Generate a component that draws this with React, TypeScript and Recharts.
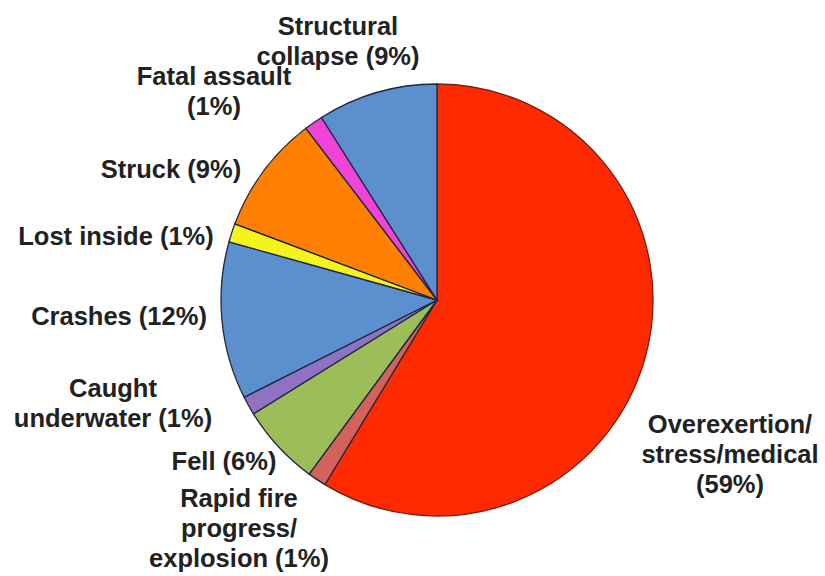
import React from 'react'
import { PieChart, Pie, Cell } from 'recharts'

// clockwise from 12 o'clock
const causes = [
  'Overexertion/\nstress/medical\n',
  'Rapid fire\nprogress/\nexplosion',
  'Fell',
  'Caught\nunderwater',
  'Crashes',
  'Lost inside',
  'Struck',
  'Fatal assault\n',
  'Structural\ncollapse',
]
const shares = [58.8, 1.4, 6.1, 1.4, 11.8, 1.4, 8.9, 1.4, 9.0]
const colors = [
  '#ff2a00', '#d3625a', '#9dbd5a', '#8f72c2', '#5b8fcd',
  '#f4f31c', '#ff8000', '#ef44d6', '#5b8fcd',
]

// where each label block is centred (x) and where its first baseline sits (y)
const labelSpots = [
  { x: 730, y: 433 },
  { x: 239, y: 507 },
  { x: 224, y: 470 },
  { x: 113, y: 397 },
  { x: 119, y: 325 },
  { x: 116, y: 245 },
  { x: 171, y: 178 },
  { x: 214, y: 85 },
  { x: 338, y: 35 },
]

const data = causes.map((name, i) => ({ name, value: shares[i] }))

const renderLabel = (props: any) => {
  const i = props.index
  const spot = labelSpots[i]
  const pct = '(' + Math.round(shares[i]) + '%)'
  const parts = causes[i].split('\n')
  // last line gets the percentage appended (or on its own line if empty)
  const lines = parts.map((p, k) => (k === parts.length - 1 ? (p ? p + ' ' + pct : pct) : p))
  return (
    <text
      x={spot.x}
      y={spot.y}
      textAnchor="middle"
      fill="#222"
      fontFamily="'Liberation Sans', Arial, sans-serif"
      fontWeight="bold"
      fontSize={25.5}
    >
      {lines.map((l, k) => (
        <tspan key={k} x={spot.x} dy={k === 0 ? 0 : 30}>
          {l}
        </tspan>
      ))}
    </text>
  )
}

export default function App() {
  return (
    <div style={{ position: 'absolute', left: 0, top: 0, width: 825, height: 576, background: '#fff' }}>
      <PieChart width={825} height={576} margin={{ top: 0, right: 0, bottom: 0, left: 0 }}>
        <Pie
          data={data}
          dataKey="value"
          nameKey="name"
          cx={437}
          cy={300}
          outerRadius={216}
          startAngle={90}
          endAngle={-270}
          label={renderLabel}
          labelLine={false}
          isAnimationActive={false}
        >
          {data.map((d, i) => (
            <Cell
              key={d.name}
              fill={colors[i]}
              stroke={i === 0 ? '#7a1c0c' : '#1e2740'}
              strokeWidth={1.3}
            />
          ))}
        </Pie>
      </PieChart>
    </div>
  )
}
